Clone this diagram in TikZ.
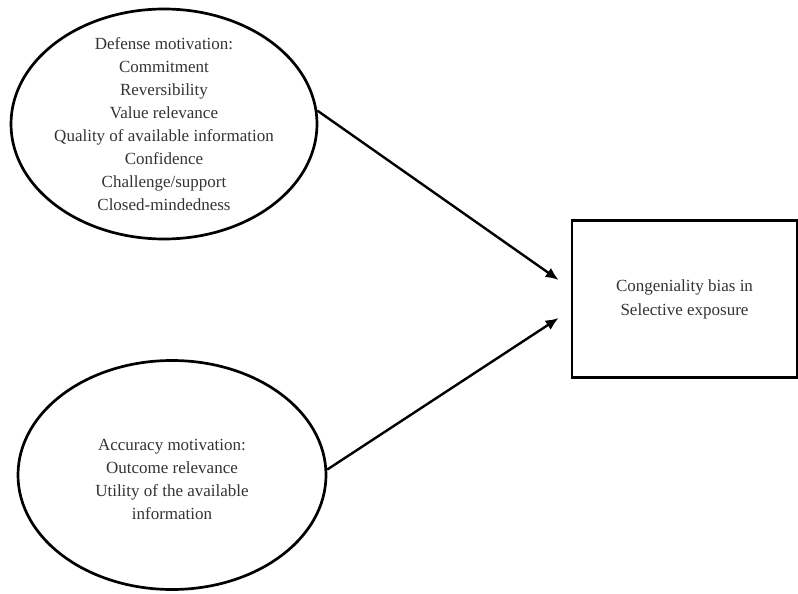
\documentclass[tikz,border=0pt]{standalone}
\usepackage{fontspec}
\setmainfont{Liberation Serif}
\usetikzlibrary{shapes.geometric,arrows.meta}

\begin{document}
\begin{tikzpicture}[x=1pt,y=-1pt]
  \tikzset{motive/.style={draw, ellipse, line width=2.7pt, inner sep=0pt},
    motivetext/.style={align=center, text=black!80, font=\fontsize{17}{23}\selectfont},
    outcome/.style={draw, rectangle, line width=2.7pt, align=center,
      text=black!80, font=\fontsize{17}{24}\selectfont},
    link/.style={line width=2.4pt, -{Latex[length=13pt,width=11pt]}}}
  \useasboundingbox (0,0) rectangle (798,594);

  \node[motive, minimum width=306, minimum height=230] at (164,124) (defense)
    [label={[motivetext]center:{Defense motivation:\\ Commitment\\ Reversibility\\ Value relevance\\
     Quality of available information\\ Confidence\\ Challenge/support\\ Closed-mindedness}}] {};
  \node[motive, minimum width=308, minimum height=229] at (172,475) (accuracy)
    [label={[motivetext, yshift=-4pt]center:{Accuracy motivation:\\ Outcome relevance\\
     Utility of the available\\ information}}] {};
  \node[outcome, minimum width=225, minimum height=157] at (684.5,299) (exposure)
    {Congeniality bias in\\ Selective exposure};

  \coordinate (in_1) at ([xshift=-12pt,yshift=19pt]exposure.west);
  \coordinate (in_2) at ([xshift=-12pt,yshift=-19pt]exposure.west);

  \draw[link] (defense.5) -- (in_1);
  \draw[link] (accuracy.2) -- (in_2);
\end{tikzpicture}
\end{document}
